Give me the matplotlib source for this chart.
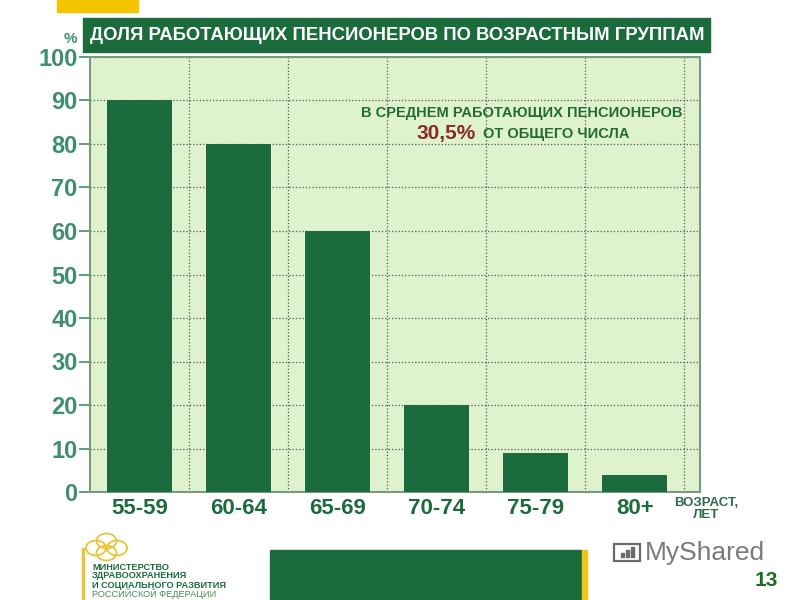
import matplotlib.pyplot as plt
from matplotlib.patches import Rectangle, Circle

plt.rcParams['font.family'] = ['Liberation Sans', 'DejaVu Sans']

groups = ['55-59', '60-64', '65-69', '70-74', '75-79', '80+']
share = [90, 80, 60, 20, 9, 4]
yticks = [0, 10, 20, 30, 40, 50, 60, 70, 80, 90, 100]

dark = '#1b6b3d'
teal = '#3f8f6e'
bg = '#def2cd'

fig = plt.figure(figsize=(8, 6), dpi=100)
ax = fig.add_axes([0.1125, 0.18, 0.7625, 0.725])
ax.set_facecolor(bg)

x = range(len(groups))
ax.bar(x, share, width=0.66, color=dark, zorder=3)
ax.set_xlim(-0.5, 5.66)
ax.set_ylim(0, 100)

ax.set_yticks(yticks)
ax.set_yticklabels([str(t) for t in yticks], fontsize=17, fontweight='bold', color=teal)
ax.tick_params(axis='y', length=8, width=1.2, color=teal, pad=1)
ax.set_xticks(list(x))
ax.set_xticklabels(groups, fontsize=16, fontweight='bold', color=dark)
ax.tick_params(axis='x', length=0, pad=4)

ax.set_xticks([i + 0.5 for i in x], minor=True)
ax.tick_params(axis='x', which='minor', length=0)
ax.grid(True, axis='y', which='major', linestyle=':', color='#555555', linewidth=0.9, zorder=1)
ax.grid(True, axis='x', which='minor', linestyle=':', color='#555555', linewidth=0.9, zorder=1)
for s in ax.spines.values():
    s.set_color('#7a9a80')
    s.set_linewidth(1.5)

ax.text(3.86, 87.1, 'В СРЕДНЕМ РАБОТАЮЩИХ ПЕНСИОНЕРОВ', ha='center', va='center',
        fontsize=10.5, fontweight='bold', color='#236b35', zorder=5)
ax.text(2.80, 82.3, '30,5%', ha='left', va='center', fontsize=15, fontweight='bold',
        color='#8b2b2b', zorder=5)
ax.text(3.47, 82.3, 'ОТ ОБЩЕГО ЧИСЛА', ha='left', va='center', fontsize=10.5,
        fontweight='bold', color='#236b35', zorder=5)

# header
fig.patches.append(Rectangle((57 / 800, 1 - 12 / 600), 81 / 800, 12 / 600,
                             transform=fig.transFigure, color='#f5c400'))
fig.patches.append(Rectangle((83 / 800, 1 - 52 / 600), 627 / 800, 34 / 600,
                             transform=fig.transFigure, color=dark))
fig.text(397 / 800, 1 - 36 / 600, 'ДОЛЯ РАБОТАЮЩИХ ПЕНСИОНЕРОВ ПО ВОЗРАСТНЫМ ГРУППАМ',
         ha='center', va='center', fontsize=13.3, fontweight='bold', color='white')
fig.text(70 / 800, 1 - 39 / 600, '%', ha='center', va='center', fontsize=11,
         fontweight='bold', color=teal)

fig.text(706 / 800, 1 - 509 / 600, 'ВОЗРАСТ,\nЛЕТ', ha='center', va='center',
         fontsize=9.5, fontweight='bold', color='#2d6a4a', linespacing=1.0)

# footer
fig.patches.append(Rectangle((270 / 800, 0), 312 / 800, 50 / 600,
                             transform=fig.transFigure, color=dark))
fig.patches.append(Rectangle((582 / 800, 0), 5 / 800, 50 / 600,
                             transform=fig.transFigure, color='#f0c419'))
fig.text(766 / 800, 1 - 580 / 600, '13', ha='center', va='center', fontsize=15,
         fontweight='bold', color='#1a6e1a')
fig.text(645 / 800, 1 - 553 / 600, 'MyShared', ha='left', va='center', fontsize=19,
         color='#7a7a7a')
# presentation-board icon
fig.patches.append(Rectangle((614 / 800, 1 - 561 / 600), 26 / 800, 17 / 600,
                             transform=fig.transFigure, fill=False,
                             edgecolor='#6a6a6a', linewidth=1.6))
for bx, bh in [(621, 4), (626, 7), (631, 10)]:
    fig.patches.append(Rectangle((bx / 800, 1 - 557 / 600), 3 / 800, bh / 600,
                                 transform=fig.transFigure, color='#6a6a6a'))

# ministry logo
for cx, cy in [(96, 548), (106.5, 541), (117, 548), (106.5, 553)]:
    fig.patches.append(Circle((cx / 800, 1 - cy / 600), 10 / 800, transform=fig.transFigure,
                              fill=False, edgecolor='#e8c53a', linewidth=1.3))
fig.patches.append(Rectangle((82 / 800, 0), 1.5 / 800, 52 / 600,
                             transform=fig.transFigure, color='#e8c53a'))
logo = ['МИНИСТЕРСТВО', 'ЗДРАВООХРАНЕНИЯ', 'И СОЦИАЛЬНОГО РАЗВИТИЯ', 'РОССИЙСКОЙ ФЕДЕРАЦИИ']
for i, line in enumerate(logo):
    fig.text(92 / 800, 1 - (567 + 9 * i) / 600, line, ha='left', va='center', fontsize=6.6,
             fontweight='bold' if i < 3 else 'normal',
             color='#1b6b3d' if i < 3 else '#4a8a5a')

fig.savefig('out.png', dpi=100)
